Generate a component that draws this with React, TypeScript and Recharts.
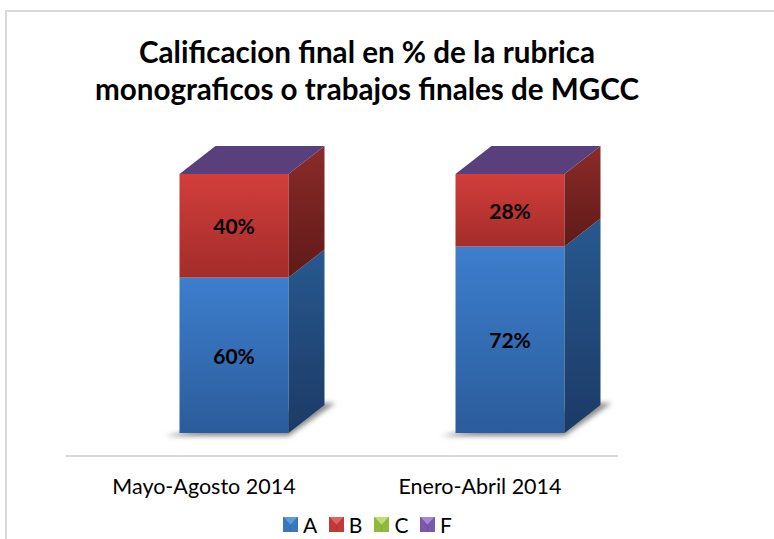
import React from 'react';
import { BarChart, Bar, XAxis, YAxis, Legend, LabelList } from 'recharts';

const periods = ['Mayo-Agosto 2014', 'Enero-Abril 2014'];
const seriesA = [60, 72];
const seriesB = [40, 28];
const seriesC = [0, 0];
const seriesF = [0, 0];

const chartData = periods.map((period, i) => ({
  period,
  A: seriesA[i],
  B: seriesB[i],
  C: seriesC[i],
  F: seriesF[i],
}));

const FONT = 'Lato, Carlito, Calibri, sans-serif';
const DEPTH_X = 36;
const DEPTH_Y = 28;
// the 3D plot pushes the columns right of the tick labels
const SHIFT_X = 29.5;

const legendItems = [
  { name: 'A', light: '#5b9be0', mid: '#3a76bd', dark: '#234f86' },
  { name: 'B', light: '#e2625f', mid: '#c23a37', dark: '#842422' },
  { name: 'C', light: '#bfe06a', mid: '#93b83f', dark: '#64812a' },
  { name: 'F', light: '#a886d6', mid: '#7a58ab', dark: '#4d3473' },
];

// Column segment: front face and side face. C and F are zero and recharts skips
// empty bars, so the purple lid of F is drawn on top of the B segment
const makeSegment = (key: string, withShadow: boolean, withTop: boolean) => (props: any) => {
  const { x, y, width, height } = props;
  const left = x + SHIFT_X;
  const right = left + width;
  const bottom = y + height;
  return (
    <g>
      {withShadow && (
        <polygon
          points={`${left - 14},${bottom + 3} ${right},${bottom + 3} ${right + DEPTH_X + 11},${bottom - DEPTH_Y - 2} ${right + DEPTH_X},${bottom - DEPTH_Y - 2}`}
          fill="#8c8c8c"
          filter="url(#softShadow)"
        />
      )}
      <rect x={left} y={y} width={width} height={height} fill={`url(#front${key})`} />
      <polygon
        points={`${right},${y} ${right + DEPTH_X},${y - DEPTH_Y} ${right + DEPTH_X},${bottom - DEPTH_Y} ${right},${bottom}`}
        fill={`url(#side${key})`}
      />
      {withTop && (
        <polygon
          points={`${left},${y} ${left + DEPTH_X},${y - DEPTH_Y} ${right + DEPTH_X},${y - DEPTH_Y} ${right},${y}`}
          fill="#593f7c"
        />
      )}
    </g>
  );
};

const renderValueLabel = (props: any) => {
  const { x, y, width, height, value } = props;
  if (!value) return null;
  return (
    <text
      x={x + SHIFT_X + width / 2}
      y={y + height / 2 + 3}
      textAnchor="middle"
      dominantBaseline="middle"
      fontFamily={FONT}
      fontWeight={700}
      fontSize={21}
      fill="#000"
    >
      {value}%
    </text>
  );
};

const LegendMarker = ({ light, mid, dark }: any) => (
  <svg width={15} height={15} style={{ display: 'block' }}>
    <rect width={15} height={15} fill={dark} />
    <polygon points="0,0 15,0 7.5,8" fill={light} />
    <polygon points="0,0 7.5,8 7.5,15 0,15" fill={mid} />
    <polygon points="15,0 7.5,8 7.5,15 15,15" fill={mid} />
  </svg>
);

const renderLegend = () => (
  <div style={{ position: 'relative', width: 774, height: 24 }}>
    {legendItems.map((item, i) => (
      <div
        key={item.name}
        style={{
          position: 'absolute',
          left: 283 + i * 45.7,
          top: 2,
          display: 'flex',
          alignItems: 'center',
          gap: 5,
          fontFamily: FONT,
          fontSize: 21,
          lineHeight: '15px',
          color: '#000',
        }}
      >
        <LegendMarker {...item} />
        <span>{item.name}</span>
      </div>
    ))}
  </div>
);

export default function App() {
  return (
    <div style={{ position: 'absolute', left: 0, top: 0, width: 774, height: 539, overflow: 'hidden', background: '#fff' }}>
      <style>{'body{margin:0}'}</style>

      {/* chart frame runs off the page on the right and bottom */}
      <div style={{ position: 'absolute', left: 5, top: 10, width: 800, height: 600, borderLeft: '2px solid #d9d9d9', borderTop: '2px solid #d9d9d9' }} />

      <div
        style={{
          position: 'absolute',
          left: 0,
          top: 33,
          width: 734,
          textAlign: 'center',
          fontFamily: FONT,
          fontWeight: 700,
          fontSize: 29.6,
          lineHeight: '37px',
          color: '#000',
        }}
      >
        Calificacion final en % de la rubrica
        <br />
        monograficos o trabajos finales de MGCC
      </div>

      <div style={{ position: 'absolute', left: 0, top: 0 }}>
        <BarChart
          width={774}
          height={539}
          data={chartData}
          margin={{ top: 174, right: 156, bottom: 0, left: 66 }}
          barSize={109}
          style={{ background: 'transparent' }}
        >
          <defs>
            <linearGradient id="frontA" x1="0" y1="0" x2="0" y2="1">
              <stop offset="0%" stopColor="#3d7ecd" />
              <stop offset="100%" stopColor="#2b5c9b" />
            </linearGradient>
            <linearGradient id="sideA" x1="0" y1="0" x2="0" y2="1">
              <stop offset="0%" stopColor="#27598f" />
              <stop offset="100%" stopColor="#1c3a66" />
            </linearGradient>
            <linearGradient id="frontB" x1="0" y1="0" x2="0" y2="1">
              <stop offset="0%" stopColor="#d23e3b" />
              <stop offset="100%" stopColor="#a32c2a" />
            </linearGradient>
            <linearGradient id="sideB" x1="0" y1="0" x2="0" y2="1">
              <stop offset="0%" stopColor="#8b2b29" />
              <stop offset="100%" stopColor="#5f1a18" />
            </linearGradient>
            <filter id="softShadow" x="-20%" y="-40%" width="140%" height="180%">
              <feGaussianBlur stdDeviation="2.5" />
            </filter>
          </defs>

          <XAxis
            dataKey="period"
            height={59}
            interval={0}
            tickLine={false}
            tickMargin={17}
            axisLine={{ stroke: '#d9d9d9', strokeWidth: 2 }}
            tick={{ fontFamily: FONT, fontSize: 21.5, fill: '#000' }}
          />
          {/* axis floor sits below the column base, so the domain goes under zero */}
          <YAxis hide domain={[-8.88, 100]} />

          <Legend content={renderLegend} wrapperStyle={{ left: 0, bottom: 0, width: 774, height: 24 }} />

          <Bar dataKey="A" name="A" stackId="s" fill="#3a76bd" isAnimationActive={false} shape={makeSegment('A', true, false)}>
            <LabelList dataKey="A" content={renderValueLabel} />
          </Bar>
          <Bar dataKey="B" name="B" stackId="s" fill="#c23a37" isAnimationActive={false} shape={makeSegment('B', false, true)}>
            <LabelList dataKey="B" content={renderValueLabel} />
          </Bar>
          <Bar dataKey="C" name="C" stackId="s" fill="#93b83f" isAnimationActive={false} />
          <Bar dataKey="F" name="F" stackId="s" fill="#7a58ab" isAnimationActive={false} />
        </BarChart>
      </div>
    </div>
  );
}
